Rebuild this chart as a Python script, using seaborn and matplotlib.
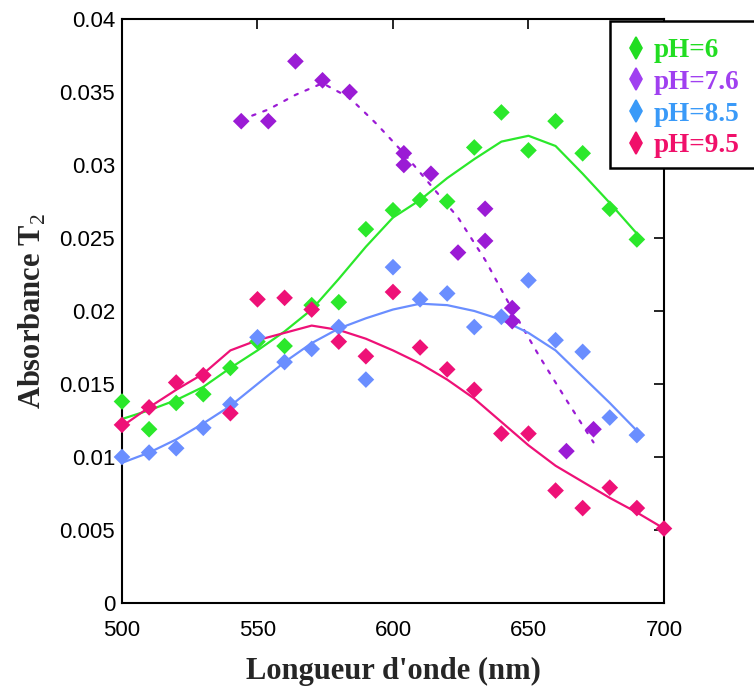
import pandas as pd
import matplotlib.pyplot as plt
import matplotlib.lines as mlines
import matplotlib.patches as mpatches
import seaborn as sns

# measured points (wavelength in nm, absorbance)
wl_10 = [500, 510, 520, 530, 540, 550, 560, 570, 580, 590,
         600, 610, 620, 630, 640, 650, 660, 670, 680, 690]
ph6_pts = [0.0138, 0.0119, 0.0137, 0.0143, 0.0161, 0.0179, 0.0176, 0.0204, 0.0206, 0.0256,
           0.0269, 0.0276, 0.0275, 0.0312, 0.0336, 0.0310, 0.0330, 0.0308, 0.0270, 0.0249]
ph85_pts = [0.0100, 0.0103, 0.0106, 0.0120, 0.0136, 0.0182, 0.0165, 0.0174, 0.0189, 0.0153,
            0.0230, 0.0208, 0.0212, 0.0189, 0.0196, 0.0221, 0.0180, 0.0172, 0.0127, 0.0115]
wl_95 = wl_10 + [700]
ph95_pts = [0.0122, 0.0134, 0.0151, 0.0156, 0.0130, 0.0208, 0.0209, 0.0201, 0.0179, 0.0169,
            0.0213, 0.0175, 0.0160, 0.0146, 0.0116, 0.0116, 0.0077, 0.0065, 0.0079, 0.0065, 0.0051]
wl_76 = [544, 554, 564, 574, 584, 604, 604, 614, 624, 634, 634, 644, 644, 664, 674]
ph76_pts = [0.0330, 0.0330, 0.0371, 0.0358, 0.0350, 0.0308, 0.0300, 0.0294, 0.0240,
            0.0270, 0.0248, 0.0202, 0.0193, 0.0104, 0.0119]

# fitted curves
ph6_fit = [0.0126, 0.0132, 0.0139, 0.0148, 0.0161, 0.0173, 0.0186, 0.0201, 0.0222, 0.0244,
           0.0264, 0.0276, 0.0291, 0.0304, 0.0316, 0.0320, 0.0313, 0.0294, 0.0274, 0.0253]
ph85_fit = [0.0096, 0.0103, 0.0112, 0.0123, 0.0135, 0.0150, 0.0165, 0.0178, 0.0188, 0.0195,
            0.0201, 0.0205, 0.0204, 0.0200, 0.0194, 0.0185, 0.0173, 0.0155, 0.0137, 0.0118]
ph95_fit = [0.0121, 0.0134, 0.0146, 0.0157, 0.0173, 0.0180, 0.0185, 0.0190, 0.0187, 0.0181,
            0.0173, 0.0164, 0.0153, 0.0140, 0.0124, 0.0108, 0.0094, 0.0083, 0.0072, 0.0062, 0.0051]
wl_76_fit = [544, 554, 564, 574, 584, 594, 604, 614, 624, 634, 644, 654, 664, 674]
ph76_fit = [0.0331, 0.0338, 0.0348, 0.0356, 0.0346, 0.0328, 0.0308, 0.0286, 0.0264,
            0.0235, 0.0201, 0.0169, 0.0139, 0.0110]

labels = ['pH=6', 'pH=7.6', 'pH=8.5', 'pH=9.5']
mark_colors = ['#2BE82B', '#9B1BD5', '#6A8EFF', '#EE1177']
legend_colors = ['#22DD22', '#A040F0', '#3A9AF8', '#F0106A']

sns.set_style('white')
plt.rcParams['mathtext.fontset'] = 'custom'
plt.rcParams['mathtext.rm'] = 'Liberation Serif'
plt.rcParams['mathtext.bf'] = 'Liberation Serif:bold'

fig = plt.figure(figsize=(7.54, 6.9), dpi=100)
ax = fig.add_axes([0.1618, 0.1261, 0.7188, 0.8464])

pts = [(wl_10, ph6_pts), (wl_76, ph76_pts), (wl_10, ph85_pts), (wl_95, ph95_pts)]
fits = [(wl_10, ph6_fit), (wl_76_fit, ph76_fit), (wl_10, ph85_fit), (wl_95, ph95_fit)]

for (x, y), col in zip(pts, mark_colors):
    sns.scatterplot(x=x, y=y, ax=ax, marker='D', s=72, color=col, edgecolor='none',
                    zorder=3, clip_on=False)

for i, ((x, y), col) in enumerate(zip(fits, mark_colors)):
    df = pd.DataFrame({'x': x, 'y': y})
    sns.lineplot(data=df, x='x', y='y', ax=ax, color=col, lw=1.6, sort=False,
                 estimator=None, zorder=2)
    if i == 1:
        ax.lines[-1].set_linestyle((0, (1.5, 3.8)))
        ax.lines[-1].set_dash_capstyle('round')

ax.set_xlim(500, 700)
ax.set_ylim(0, 0.04)
ax.set_xticks([500, 550, 600, 650, 700])
ax.set_yticks([0, 0.005, 0.01, 0.015, 0.02, 0.025, 0.03, 0.035, 0.04])
ax.set_yticklabels(['0', '0.005', '0.01', '0.015', '0.02', '0.025', '0.03', '0.035', '0.04'])
ax.tick_params(axis='both', direction='in', length=7, width=1.2, labelsize=16,
               top=True, right=True, colors='black')
ax.tick_params(axis='x', pad=12)
ax.tick_params(axis='y', pad=5)
for lab in ax.get_xticklabels() + ax.get_yticklabels():
    lab.set_fontfamily('Liberation Sans')
for sp in ax.spines.values():
    sp.set_color('black')
    sp.set_linewidth(1.5)

ax.set_xlabel("Longueur d'onde (nm)", fontsize=22, fontweight='bold',
              fontfamily='Liberation Serif', labelpad=12)
ax.set_ylabel(r'Absorbance T$_\mathrm{2}$', fontsize=22, fontweight='bold',
              fontfamily='Liberation Serif', labelpad=8)

# legend box sticking out of the axes
fig.patches.append(mpatches.Rectangle((610 / 754, 1 - 168 / 690), 150 / 754, 147 / 690,
                                      transform=fig.transFigure, fill=True, facecolor='white',
                                      edgecolor='black', lw=1.8, zorder=5))
handles = [mlines.Line2D([], [], ls='none', marker='d', markersize=11, color=c) for c in legend_colors]
leg = fig.legend(handles, labels, loc='upper left', bbox_to_anchor=(629 / 754, 1 - 38 / 690),
                 frameon=False, handlelength=0.5, handletextpad=0.4, labelspacing=0.25,
                 borderaxespad=0, borderpad=0,
                 prop={'family': 'Liberation Serif', 'weight': 'bold', 'size': 19.5})
leg.set_zorder(6)
for t, c in zip(leg.get_texts(), legend_colors):
    t.set_color(c)
for h in leg.legend_handles:
    h.set_markeredgewidth(1.2)

fig.savefig('out.png', dpi=100, facecolor='white')
